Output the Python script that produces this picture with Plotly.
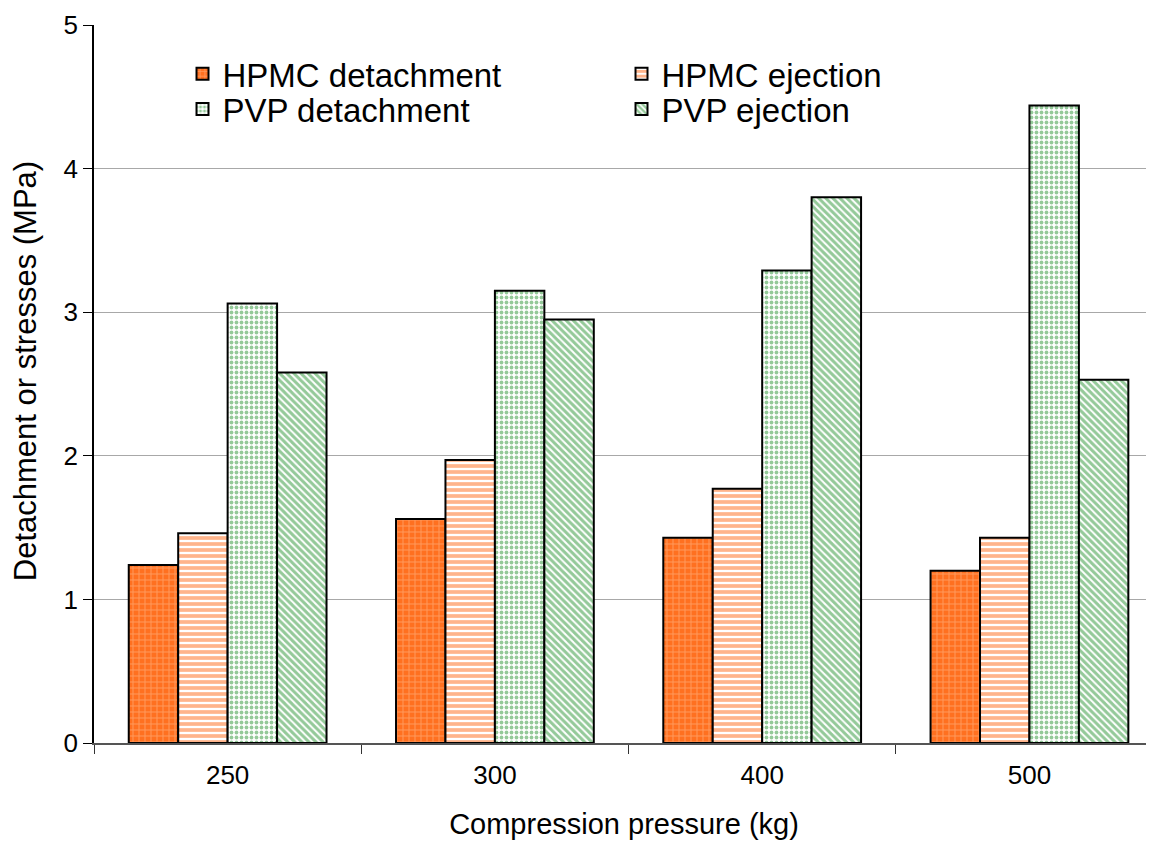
import plotly.graph_objects as go

pressures = ["250", "300", "400", "500"]
hpmc_detachment = [1.24, 1.56, 1.43, 1.20]
hpmc_ejection = [1.46, 1.97, 1.77, 1.43]
pvp_detachment = [3.06, 3.15, 3.29, 4.44]
pvp_ejection = [2.58, 2.95, 3.80, 2.53]

FONT = "Liberation Sans, Arial, sans-serif"

# (name, values, pattern, legend)
series = [
    ("HPMC detachment", hpmc_detachment,
     dict(shape="+", bgcolor="#FF7020", fgcolor="#FFC49A", size=6, solidity=0.3), "legend"),
    ("HPMC ejection", hpmc_ejection,
     dict(shape="-", bgcolor="white", fgcolor="#FF6A18", size=6, solidity=0.62), "legend"),
    ("PVP detachment", pvp_detachment,
     dict(shape=".", bgcolor="white", fgcolor="#2A9434", size=5, solidity=0.45), "legend2"),
    ("PVP ejection", pvp_ejection,
     dict(shape="\\", bgcolor="white", fgcolor="#2A9434", size=5, solidity=0.6), "legend2"),
]

fig = go.Figure()
for name, vals, pat, leg in series:
    fig.add_trace(go.Bar(
        x=pressures, y=vals, name=name, legend=leg,
        marker=dict(color="white", pattern=pat, line=dict(color="black", width=2)),
    ))

legend_style = dict(
    orientation="h", xanchor="left", yanchor="middle",
    entrywidth=394, entrywidthmode="pixels",
    font=dict(size=33), bgcolor="rgba(0,0,0,0)",
)

fig.update_layout(
    width=1146, height=833,
    margin=dict(l=86, r=0, t=17, b=98),
    paper_bgcolor="white", plot_bgcolor="white",
    barmode="group", bargap=0.26, bargroupgap=0,
    font=dict(family=FONT, size=26, color="black"),
    legend=dict(x=0.0835, y=0.932, **legend_style),
    legend2=dict(x=0.0835, y=0.883, **legend_style),
    annotations=[dict(
        text="Detachment or stresses (MPa)", textangle=-90,
        xref="paper", yref="paper", x=-0.065, y=0.518,
        xanchor="center", yanchor="middle", showarrow=False,
        font=dict(size=31),
    )],
)
fig.update_xaxes(
    type="category", range=[-0.5, 3.466], automargin=False,
    showline=True, linecolor="#555555", linewidth=1.5,
    ticks="outside", tickson="boundaries", ticklen=9, tickcolor="#333333",
    ticklabelstandoff=8,
    showgrid=False,
    title=dict(text="Compression pressure (kg)", font=dict(size=29), standoff=25),
)
fig.update_yaxes(
    range=[0, 5], dtick=1, automargin=False,
    showline=True, linecolor="black", linewidth=1.5,
    ticks="outside", ticklen=9, tickcolor="black",
    showgrid=True, gridcolor="#A8A8A8", gridwidth=1.2,
    zeroline=False,
)

fig.write_html("out.html")
